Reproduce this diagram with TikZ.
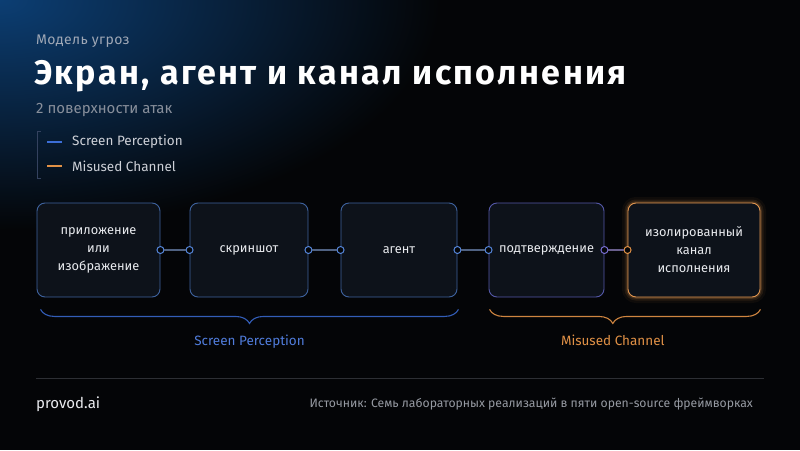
\documentclass[tikz,border=0pt]{standalone}
\usepackage{fontspec}
\setmainfont{Fira Sans}
\usetikzlibrary{decorations.pathreplacing}

\definecolor{bgdark}{RGB}{4,5,7}
\definecolor{glowblue}{RGB}{12,62,115}
\definecolor{boxfill}{RGB}{13,18,26}
\definecolor{boxblue}{RGB}{62,98,158}
\definecolor{boxviolet}{RGB}{84,88,168}
\definecolor{boxorange}{RGB}{225,150,80}
\definecolor{portblue}{RGB}{85,135,220}
\definecolor{linkgrey}{RGB}{80,98,130}
\definecolor{accentblue}{RGB}{60,110,215}
\definecolor{accentorange}{RGB}{225,145,70}
\definecolor{greytext}{RGB}{160,168,182}
\definecolor{lighttext}{RGB}{205,208,215}

\begin{document}
\begin{tikzpicture}[x=1pt,y=-1pt,
    stage/.style={rectangle,rounded corners=8pt,draw=boxblue,line width=0.9pt,
        fill=boxfill,minimum height=94pt,align=center,
        text={rgb,255:red,232;green,234;blue,238},font=\fontsize{12.8}{18}\selectfont},
    port/.style={circle,draw=portblue,fill=bgdark,line width=1pt,inner sep=0pt,minimum size=7pt},
    link/.style={draw=linkgrey,line width=1.3pt},
    label/.style={inner sep=0pt,anchor=west},
    brace/.style={decorate,decoration={brace,mirror,amplitude=14pt},line width=1.1pt}]
    % background
    \fill[bgdark] (0,0) rectangle (800,450);
    \begin{scope}
        \clip (0,0) rectangle (800,450);
        \shade[inner color=glowblue,outer color=bgdark] (0,0) ellipse (440 and 230);
    \end{scope}
    % heading
    \node[label,text=greytext,font=\fontsize{14}{16}\selectfont\addfontfeature{LetterSpace=3}] at (36,41) (h1) {Модель угроз};
    \node[label,text=white,font=\fontsize{34}{38}\selectfont\bfseries\addfontfeature{LetterSpace=7}] at (34,76) (h2) {Экран, агент и канал исполнения};
    \node[label,text=greytext!85!black,font=\fontsize{15}{17}\selectfont] at (36,110) (h3) {2 поверхности атак};
    % legend
    \draw[draw={rgb,255:red,52;green,66;blue,95},line width=0.9pt] (41,131) -- (37,131) -- (37,178) -- (41,178);
    \draw[accentblue,line width=2pt] (47,142) -- (62,142);
    \draw[accentorange,line width=2pt] (47,166) -- (62,166);
    \node[label,text=lighttext,font=\fontsize{13.5}{15}\selectfont] at (72,142) (k1) {Screen Perception};
    \node[label,text=lighttext,font=\fontsize{13.5}{15}\selectfont] at (72,166) (k2) {Misused Channel};
    % stages
    \node[stage,minimum width=123pt] at (98.5,250) (1) {приложение\\или\\изображение};
    \node[stage,minimum width=118pt] at (249,250) (2) {скриншот};
    \node[stage,minimum width=116pt] at (399,250) (3) {агент};
    \node[stage,minimum width=115pt,draw=boxviolet] at (546.5,250) (4) {подтверждение};
    \node[stage,minimum width=132pt,draw=boxorange,
        preaction={draw=boxorange,line width=12pt,draw opacity=0.05},
        preaction={draw=boxorange,line width=7pt,draw opacity=0.1},
        preaction={draw=boxorange,line width=3.5pt,draw opacity=0.2}] at (694,250) (5) {изолированный\\канал\\исполнения};
    % ports and links
    \node[port] at (1.east) (1r) {};
    \node[port] at (2.west) (2l) {};
    \node[port] at (2.east) (2r) {};
    \node[port] at (3.west) (3l) {};
    \node[port] at (3.east) (3r) {};
    \node[port] at (4.west) (4l) {};
    \node[port,draw={rgb,255:red,120;green,110;blue,210}] at (4.east) (4r) {};
    \node[port,draw=accentorange] at (5.west) (5l) {};
    \draw[link] (1r) -- (2l);
    \draw[link] (2r) -- (3l);
    \draw[link] (3r) -- (4l);
    \draw[link,draw={rgb,255:red,105;green,95;blue,140}] (4r) -- (5l);
    % braces
    \draw[brace,draw=accentblue!85!black] ([xshift=4pt,yshift=-12pt]1.south west) -- ([xshift=1pt,yshift=-12pt]3.south east) node[midway,below=22pt,text=accentblue!90!white,font=\fontsize{13.5}{15}\selectfont] (b1) {Screen Perception};
    \draw[brace,draw=accentorange!92!black,decoration={aspect=0.455}] ([xshift=1pt,yshift=-12pt]4.south west) -- ([xshift=0pt,yshift=-12pt]5.south east) node[pos=0.455,below=22pt,text=accentorange,font=\fontsize{13.5}{15}\selectfont] (b2) {Misused Channel};
    % footer
    \draw[draw={rgb,255:red,45;green,47;blue,52},line width=0.9pt] (36,378) -- (764,378);
    \node[label,text={rgb,255:red,235;green,236;blue,240},font=\fontsize{15}{17}\selectfont] at (36,404) (f1) {provod.ai};
    \node[inner sep=0pt,anchor=east,text={rgb,255:red,150;green,154;blue,162},font=\fontsize{12.2}{14}\selectfont] at (753,404) (f2) {Источник: Семь лабораторных реализаций в пяти open-source фреймворках};
\end{tikzpicture}
\end{document}
